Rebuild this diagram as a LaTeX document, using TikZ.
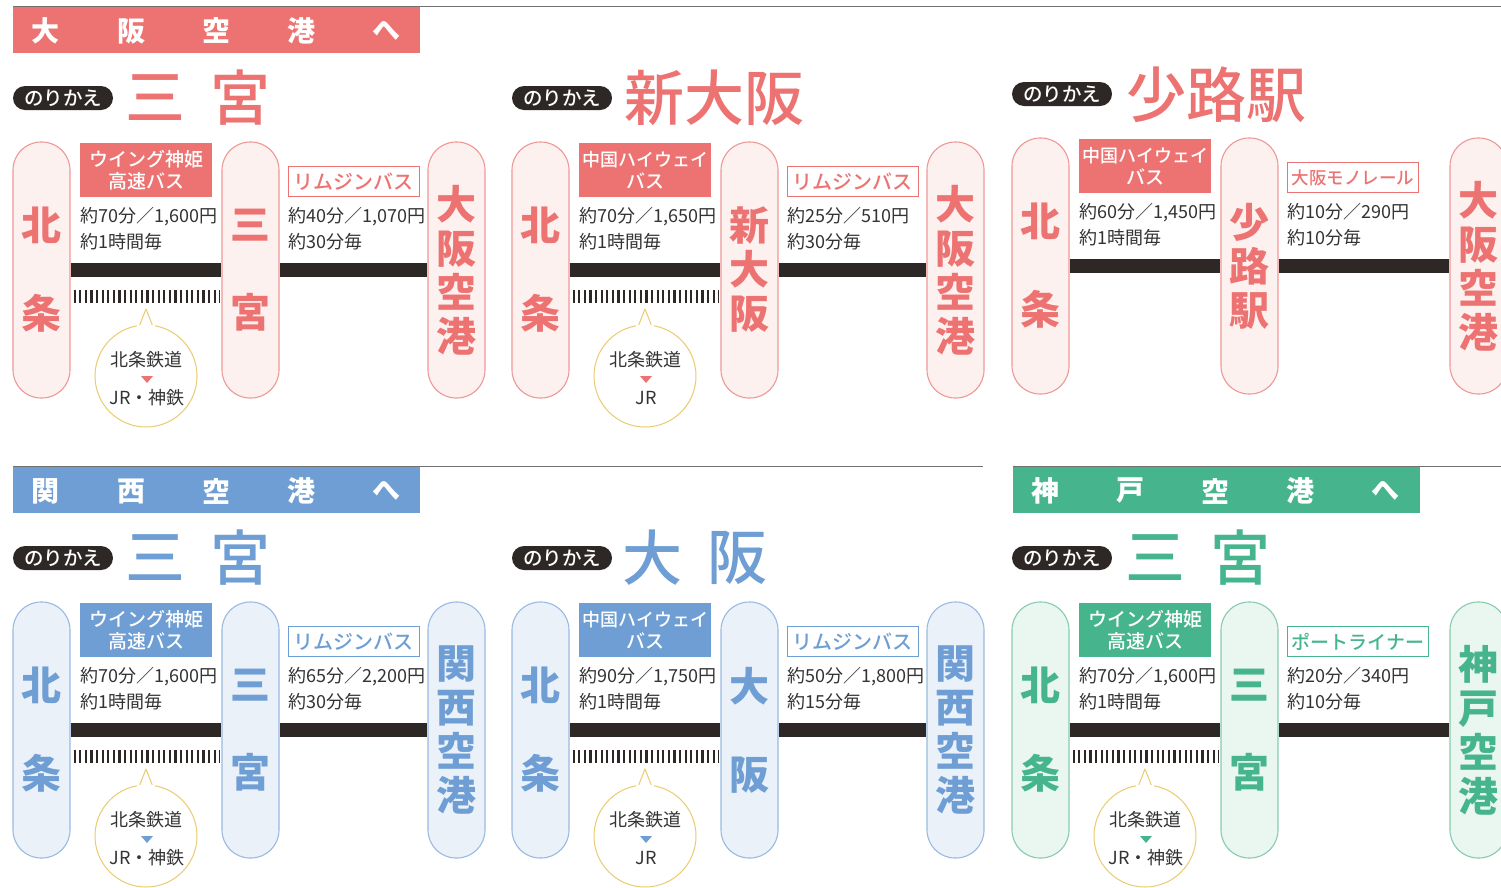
\documentclass[tikz,border=0pt]{standalone}
\usepackage{fontspec}
\setmainfont{Noto Sans CJK JP}
\IfFontExistsTF{Noto Sans CJK JP Medium}{\newfontfamily\medfont{Noto Sans CJK JP Medium}}{\newcommand\medfont{\bfseries}}
\definecolor{rd}{HTML}{EC7372}
\definecolor{rdl}{HTML}{FDF1F0}
\definecolor{rdb}{HTML}{EE9896}
\definecolor{bl}{HTML}{6E9ED3}
\definecolor{bll}{HTML}{EBF1F9}
\definecolor{blb}{HTML}{99BAE1}
\definecolor{gr}{HTML}{46B58E}
\definecolor{grl}{HTML}{EAF6F0}
\definecolor{grb}{HTML}{88CBB0}
\definecolor{ink}{HTML}{2D2826}
\definecolor{txt}{HTML}{333333}
\definecolor{gold}{HTML}{EBCB6E}
\definecolor{rule}{HTML}{707070}
\colorlet{cur}{rd}\colorlet{curl}{rdl}\colorlet{curb}{rdb}
\def\endx{456.5}
\newcommand\route[8]{%
\begin{scope}[shift={#2}]
\node[pill] (#1p1) at (41.5,270) {北\\[44pt]条};
\node[pill] (#1p2) at (250.5,270) {#3};
\node[pill] (#1p3) at (\endx,270) {#4};
\draw[busline] (#1p1.east) -- (#1p2.west);
\draw[busline] (#1p2.east) -- (#1p3.west);
\node[busbox] (#1b1) at (80,143) {#5};
\node[modebox] (#1b2) at (288,166) {#6};
\node[info] (#1i1) at (80,229) {#7};
\node[info] (#1i2) at (288,229) {#8};
\end{scope}}
\newcommand\jrbubble[3]{%
\draw[rail] ([xshift=3pt,yshift=-26.5pt]#1p1.east) -- ([xshift=-2pt,yshift=-26.5pt]#1p2.west);
\begin{scope}[shift={#2}]
\node[bubble] (#1c) at (146,376) {};
\coordinate (#1t) at (146,309);
\fill[white] (#1c.100) -- (#1t) -- (#1c.80) -- (#1c.center) -- cycle;
\draw[gold, line width=1pt, line join=round] (#1c.97) -- (#1t) -- (#1c.83);
\node[btext] (#1x1) at (146.5,360) {北条鉄道};
\fill[cur] (141,376) -- (153,376) -- (147,383) -- cycle;
\node[btext] (#1x2) at (147,398) {#3};
\end{scope}}
\begin{document}
\begin{tikzpicture}[x=1pt,y=-1pt,
 pill/.style={draw=curb, fill=curl, line width=1.1pt, rounded corners=28pt, minimum width=57pt, minimum height=256pt, inner sep=0pt, text=cur, align=center, font=\fontsize{40}{44}\selectfont\bfseries},
 busline/.style={draw=ink, line width=13.5pt},
 rail/.style={draw=ink, line width=13pt, dash pattern=on 2.2pt off 3.4pt},
 busbox/.style={anchor=north west, fill=cur, text=white, minimum width=132pt, minimum height=54pt, inner sep=0pt, align=center, font=\fontsize{19}{22}\selectfont\medfont},
 modebox/.style={anchor=north west, draw=cur, line width=0.9pt, fill=white, text=cur, minimum width=131pt, minimum height=30pt, inner xsep=4pt, inner ysep=0pt, font=\fontsize{20}{22}\selectfont\medfont},
 info/.style={anchor=west, text=txt, align=left, inner sep=0pt, font=\fontsize{18}{26}\selectfont},
 bubble/.style={circle, draw=gold, line width=1pt, fill=white, minimum size=102pt, inner sep=0pt},
 btext/.style={text=txt, inner sep=0pt, font=\fontsize{18}{20}\selectfont},
 badge/.style={fill=ink, text=white, rounded corners=12pt, minimum width=100pt, minimum height=24pt, inner sep=0pt, font=\fontsize{19.5}{20}\selectfont\medfont},
 ttl/.style={text=cur, inner sep=0pt, font=\fontsize{60}{60}\selectfont\medfont},
 hdr/.style={anchor=north west, minimum width=407pt, minimum height=46pt, inner sep=0pt},
 htext/.style={text=white, inner sep=0pt, font=\fontsize{28}{28}\selectfont\bfseries},
 topline/.style={draw=rule, line width=1pt}]
\useasboundingbox (0,0) rectangle (1501,887);
\fill[white] (0,0) rectangle (1501,887);
% rules
\draw[topline] (13,6.5) -- (1501,6.5);
\draw[topline] (13,466.5) -- (983,466.5);
\draw[topline] (1013,466.5) -- (1501,466.5);
% headers
\node[hdr, fill=rd] (h1) at (13,7) {};
\node[htext] (h1a) at (45,31) {大};
\node[htext] (h1b) at (131,31) {阪};
\node[htext] (h1c) at (216,31) {空};
\node[htext] (h1d) at (301,31) {港};
\node[htext] (h1e) at (386,31) {へ};
\node[hdr, fill=bl] (h2) at (13,467) {};
\node[htext] (h2a) at (45,491) {関};
\node[htext] (h2b) at (131,491) {西};
\node[htext] (h2c) at (216,491) {空};
\node[htext] (h2d) at (301,491) {港};
\node[htext] (h2e) at (386,491) {へ};
\node[hdr, fill=gr] (h3) at (1013,467) {};
\node[htext] (h3a) at (1045,491) {神};
\node[htext] (h3b) at (1130,491) {戸};
\node[htext] (h3c) at (1215,491) {空};
\node[htext] (h3d) at (1300,491) {港};
\node[htext] (h3e) at (1385,491) {へ};
% ---------- top row (red)
\colorlet{cur}{rd}\colorlet{curl}{rdl}\colorlet{curb}{rdb}
\node[badge] (t1) at (63,98) {のりかえ};
\node[ttl] (t1a) at (155,98) {三};
\node[ttl] (t1b) at (240,98) {宮};
\node[badge] (t2) at (562,98) {のりかえ};
\node[ttl, anchor=west] (t2a) at (624,98) {新大阪};
\node[badge] (t3) at (1062,94) {のりかえ};
\node[ttl, anchor=west] (t3a) at (1126,95) {少路駅};
\def\endx{456.5}
\route{a}{(0,0)}{三\\[44pt]宮}{大\\阪\\空\\港}{ウイング神姫\\高速バス}{リムジンバス}{約70分／1,600円\\約1時間毎}{約40分／1,070円\\約30分毎}
\jrbubble{a}{(0,0)}{JR・神鉄}
\route{b}{(499,0)}{新\\大\\阪}{大\\阪\\空\\港}{{\fontsize{18}{22}\selectfont 中国ハイウェイ}\\バス}{リムジンバス}{約70分／1,650円\\約1時間毎}{約25分／510円\\約30分毎}
\jrbubble{b}{(499,0)}{JR}
\def\endx{479.5}
\route{c}{(999,-4)}{少\\路\\駅}{大\\阪\\空\\港}{{\fontsize{18}{22}\selectfont 中国ハイウェイ}\\バス}{{\fontsize{17.5}{20}\selectfont 大阪モノレール}}{約60分／1,450円\\約1時間毎}{約10分／290円\\約10分毎}
% ---------- bottom row (blue)
\colorlet{cur}{bl}\colorlet{curl}{bll}\colorlet{curb}{blb}
\node[badge] (t4) at (63,558) {のりかえ};
\node[ttl] (t4a) at (155,558) {三};
\node[ttl] (t4b) at (240,558) {宮};
\node[badge] (t5) at (562,558) {のりかえ};
\node[ttl] (t5a) at (652,558) {大};
\node[ttl] (t5b) at (737,558) {阪};
\def\endx{456.5}
\route{d}{(0,460)}{三\\[44pt]宮}{関\\西\\空\\港}{ウイング神姫\\高速バス}{リムジンバス}{約70分／1,600円\\約1時間毎}{約65分／2,200円\\約30分毎}
\jrbubble{d}{(0,460)}{JR・神鉄}
\route{e}{(499,460)}{大\\[44pt]阪}{関\\西\\空\\港}{{\fontsize{18}{22}\selectfont 中国ハイウェイ}\\バス}{リムジンバス}{約90分／1,750円\\約1時間毎}{約50分／1,800円\\約15分毎}
\jrbubble{e}{(499,460)}{JR}
% ---------- bottom right (green)
\colorlet{cur}{gr}\colorlet{curl}{grl}\colorlet{curb}{grb}
\node[badge] (t6) at (1062,558) {のりかえ};
\node[ttl] (t6a) at (1155,558) {三};
\node[ttl] (t6b) at (1240,558) {宮};
\def\endx{479.5}
\route{f}{(999,460)}{三\\[44pt]宮}{神\\戸\\空\\港}{ウイング神姫\\高速バス}{{\fontsize{19}{22}\selectfont ポートライナー}}{約70分／1,600円\\約1時間毎}{約20分／340円\\約10分毎}
\jrbubble{f}{(999,460)}{JR・神鉄}
\end{tikzpicture}
\end{document}
